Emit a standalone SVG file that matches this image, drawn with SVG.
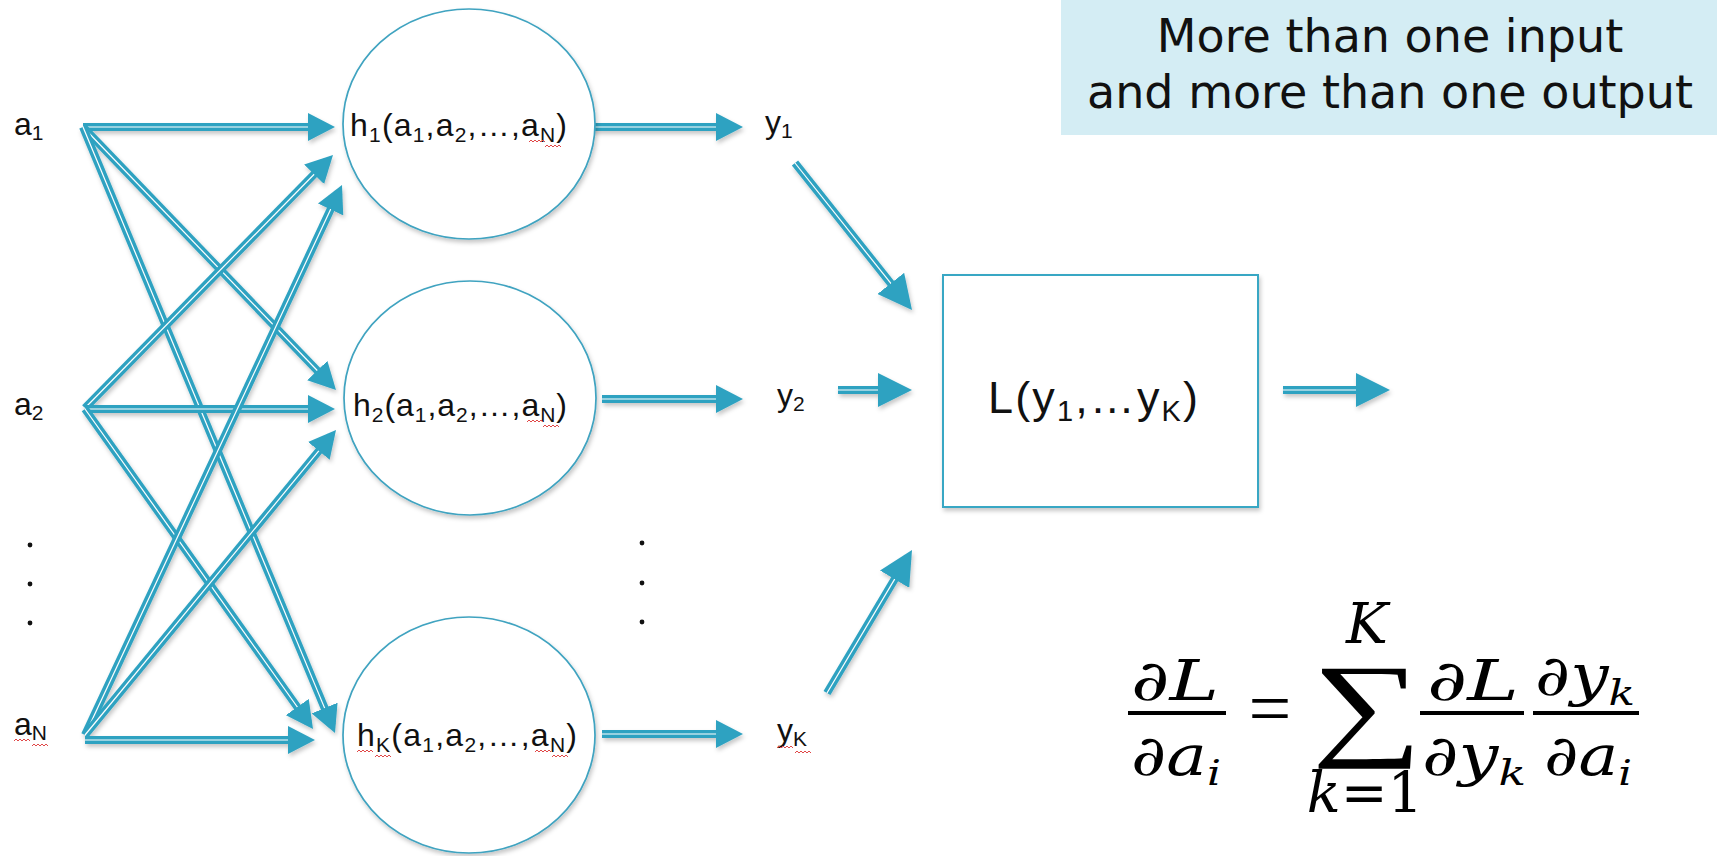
<svg xmlns="http://www.w3.org/2000/svg" width="1717" height="856" viewBox="0 0 1717 856">
<style>
  .lbl{font-family:"Liberation Sans",Arial,sans-serif;font-size:32px;fill:#111}
  .htx{font-family:"Liberation Sans",Arial,sans-serif;font-size:32px;fill:#111}
  .ltx{font-family:"Liberation Sans",Arial,sans-serif;font-size:45px;fill:#111}
  .ttl{font-family:"DejaVu Sans",sans-serif;font-size:46px;fill:#111;text-anchor:middle}
  .mth{font-family:"DejaVu Serif","Liberation Serif",serif;font-size:56px;font-style:italic;fill:#000;text-anchor:middle}
  .node{fill:#fff;stroke:#3fa3c0;stroke-width:1.7}
  .thick{stroke:#2fa2c1;stroke-width:8;fill:none}
  .thin{stroke:#fff;stroke-width:1.2;fill:none}
  .sm{marker-end:url(#ahS)}
  .bg{marker-end:url(#ahB)}
  .sq{fill:none;stroke:#e04848;stroke-width:1}
  .dot{fill:#111}
</style>
<defs>
  <marker id="ahS" markerUnits="userSpaceOnUse" viewBox="0 0 27 28" markerWidth="27" markerHeight="28" refX="19" refY="14" orient="auto">
    <path d="M0,0 L27,14 L0,28 z" fill="#2fa2c1"/>
  </marker>
  <marker id="ahB" markerUnits="userSpaceOnUse" viewBox="0 0 34 34" markerWidth="34" markerHeight="34" refX="26" refY="17" orient="auto">
    <path d="M0,0 L34,17 L0,34 z" fill="#2fa2c1"/>
  </marker>
  <filter id="sh" x="-10%" y="-10%" width="120%" height="130%">
    <feDropShadow dx="1.5" dy="3" stdDeviation="2" flood-color="#000" flood-opacity="0.22"/>
  </filter>
  <path id="sq" class="sq" d="M0,0 l2,-2 l2,2 l2,-2 l2,2 l2,-2 l2,2 l2,-2 l2,2"/>
</defs>
<rect width="1717" height="856" fill="#fff"/>

<g id="title">
  <rect x="1061" y="0" width="656" height="135" fill="#d4edf4"/>
  <text class="ttl" x="1390" y="52">More than one input</text>
  <text class="ttl" x="1390" y="108">and more than one output</text>
</g>

<g id="connectors" filter="url(#sh)">
  <!-- a1 -->
  <path class="thick" d="M83,127 L327,127"/><path class="thin sm" d="M83,127 L327,127"/>
  <path class="thick" d="M83,127 L330.45,384.23"/><path class="thin sm" d="M83,127 L330.45,384.23"/>
  <path class="thick" d="M83,127 L331.93,725.61"/><path class="thin sm" d="M83,127 L331.93,725.61"/>
  <!-- a2 -->
  <path class="thick" d="M85,408 L327.4,160.71"/><path class="thin sm" d="M85,408 L327.4,160.71"/>
  <path class="thick" d="M85,409 L327,409"/><path class="thin sm" d="M85,409 L327,409"/>
  <path class="thick" d="M85,409 L308.36,722.48"/><path class="thin sm" d="M85,409 L308.36,722.48"/>
  <!-- aN -->
  <path class="thick" d="M85,735 L338.61,192.25"/><path class="thin sm" d="M85,735 L338.61,192.25"/>
  <path class="thick" d="M85,735 L330.92,436.18"/><path class="thin sm" d="M85,735 L330.92,436.18"/>
  <path class="thick" d="M85,740 L307,740"/><path class="thin sm" d="M85,740 L307,740"/>
  <!-- h to y -->
  <path class="thick" d="M583,127 L735,127"/><path class="thin sm" d="M583,127 L735,127"/>
  <path class="thick" d="M602,399 L735,399"/><path class="thin sm" d="M602,399 L735,399"/>
  <path class="thick" d="M602,734 L735,734"/><path class="thin sm" d="M602,734 L735,734"/>
  <!-- y to L -->
  <path class="thick" d="M795,163 L907.02,303.74"/><path class="thin bg" d="M795,163 L907.02,303.74"/>
  <path class="thick" d="M838,390 L904,390"/><path class="thin bg" d="M838,390 L904,390"/>
  <path class="thick" d="M827,693 L907.91,556.88"/><path class="thin bg" d="M827,693 L907.91,556.88"/>
  <!-- L out -->
  <path class="thick" d="M1283,390 L1382,390"/><path class="thin bg" d="M1283,390 L1382,390"/>
</g>

<g id="a1"><text class="lbl" x="14" y="135">a<tspan font-size="21" dy="5">1</tspan></text></g>
<g id="a2"><text class="lbl" x="14" y="415">a<tspan font-size="21" dy="5">2</tspan></text></g>
<g id="inDots"><circle class="dot" cx="30" cy="545" r="2.4"/><circle class="dot" cx="30" cy="584" r="2.4"/><circle class="dot" cx="30" cy="623" r="2.4"/></g>
<g id="aN"><text class="lbl" x="14" y="735">a<tspan font-size="21" dy="5">N</tspan></text>
  <use href="#sq" x="14" y="741"/><use href="#sq" x="32" y="746"/></g>

<g id="h1">
  <ellipse class="node" cx="469" cy="124" rx="126" ry="115" filter="url(#sh)"/>
  <text class="htx" x="350" y="136" textLength="217" lengthAdjust="spacing">h<tspan font-size="21" dy="6">1</tspan><tspan dy="-6">(a</tspan><tspan font-size="21" dy="6">1</tspan><tspan dy="-6">,a</tspan><tspan font-size="21" dy="6">2</tspan><tspan dy="-6">,…,a</tspan><tspan font-size="21" dy="6">N</tspan><tspan dy="-6">)</tspan></text>
  <use href="#sq" x="529" y="142"/><use href="#sq" x="545" y="147"/>
</g>
<g id="h2">
  <ellipse class="node" cx="470" cy="398" rx="126" ry="117" filter="url(#sh)"/>
  <text class="htx" x="353" y="416" textLength="214" lengthAdjust="spacing">h<tspan font-size="21" dy="6">2</tspan><tspan dy="-6">(a</tspan><tspan font-size="21" dy="6">1</tspan><tspan dy="-6">,a</tspan><tspan font-size="21" dy="6">2</tspan><tspan dy="-6">,…,a</tspan><tspan font-size="21" dy="6">N</tspan><tspan dy="-6">)</tspan></text>
  <use href="#sq" x="527" y="422"/><use href="#sq" x="543" y="427"/>
</g>
<g id="hK">
  <ellipse class="node" cx="469" cy="735" rx="126" ry="118" filter="url(#sh)"/>
  <text class="htx" x="357" y="746" textLength="220" lengthAdjust="spacing">h<tspan font-size="21" dy="6">K</tspan><tspan dy="-6">(a</tspan><tspan font-size="21" dy="6">1</tspan><tspan dy="-6">,a</tspan><tspan font-size="21" dy="6">2</tspan><tspan dy="-6">,…,a</tspan><tspan font-size="21" dy="6">N</tspan><tspan dy="-6">)</tspan></text>
  <use href="#sq" x="357" y="752"/><use href="#sq" x="375" y="757"/><use href="#sq" x="535" y="752"/><use href="#sq" x="552" y="757"/>
</g>

<g id="y1"><text class="lbl" x="765" y="133">y<tspan font-size="21" dy="5">1</tspan></text></g>
<g id="y2"><text class="lbl" x="777" y="406">y<tspan font-size="21" dy="5">2</tspan></text></g>
<g id="outDots"><circle class="dot" cx="642" cy="543" r="2.4"/><circle class="dot" cx="642" cy="583" r="2.4"/><circle class="dot" cx="642" cy="622" r="2.4"/></g>
<g id="yK"><text class="lbl" x="777" y="741">y<tspan font-size="21" dy="5">K</tspan></text>
  <use href="#sq" x="777" y="748"/><use href="#sq" x="795" y="753"/></g>

<g id="L">
  <rect x="943" y="275" width="315" height="232" fill="#fff" stroke="#39a7c4" stroke-width="2" filter="url(#sh)"/>
  <text class="ltx" x="988" y="413" textLength="210" lengthAdjust="spacing">L(y<tspan font-size="29" dy="8">1</tspan><tspan dy="-8">,…y</tspan><tspan font-size="29" dy="8">K</tspan><tspan dy="-8">)</tspan></text>
</g>

<g id="formula">
  <text class="mth" x="1175" y="700" textLength="88" lengthAdjust="spacingAndGlyphs">∂L</text>
  <rect x="1128" y="711" width="98" height="4" fill="#000"/>
  <text class="mth" x="1176" y="775" textLength="90" lengthAdjust="spacingAndGlyphs">∂a<tspan font-size="36" dy="10">i</tspan></text>
  <text x="1270" y="734" font-family="Liberation Serif,serif" font-size="76" text-anchor="middle">=</text>
  <text transform="translate(1367,744) scale(1.35,1)" x="0" y="0" font-family="Liberation Serif,serif" font-size="115" text-anchor="middle">∑</text>
  <text class="mth" x="1367" y="643" font-size="42">K</text>
  <text class="mth" x="1365" y="812" font-size="40">k<tspan font-style="normal">=1</tspan></text>
  <text class="mth" x="1473" y="700" textLength="92" lengthAdjust="spacingAndGlyphs">∂L</text>
  <rect x="1420" y="711" width="104" height="4" fill="#000"/>
  <text class="mth" x="1474" y="775" textLength="104" lengthAdjust="spacingAndGlyphs">∂y<tspan font-size="36" dy="10">k</tspan></text>
  <text class="mth" x="1585" y="695" textLength="100" lengthAdjust="spacingAndGlyphs">∂y<tspan font-size="36" dy="10">k</tspan></text>
  <rect x="1533" y="711" width="106" height="4" fill="#000"/>
  <text class="mth" x="1588" y="775" textLength="88" lengthAdjust="spacingAndGlyphs">∂a<tspan font-size="36" dy="10">i</tspan></text>
</g>
</svg>
